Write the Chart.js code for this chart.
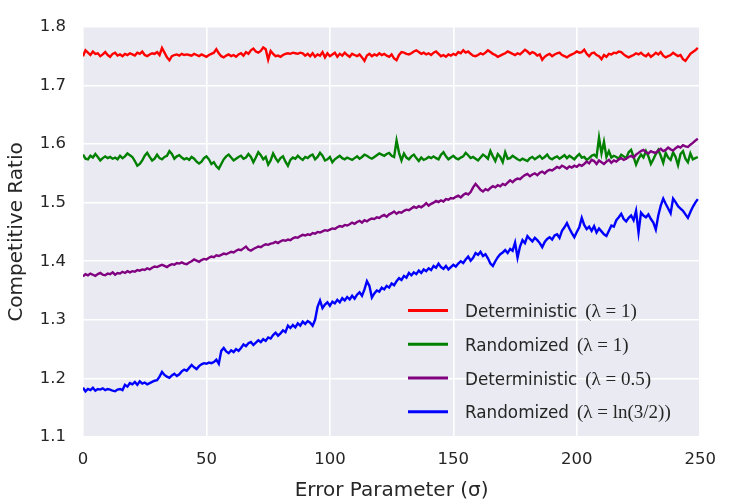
<!DOCTYPE html>
<html>
<head>
<meta charset="utf-8">
<script src="https://cdn.jsdelivr.net/npm/chart.js@4/dist/chart.umd.min.js"></script>
<style>
html,body{margin:0;padding:0;background:#fff;}
canvas{display:block;}
</style>
</head>
<body>
<canvas id="c" width="729" height="501"></canvas>
<script>
// x values: Error Parameter sigma = 0..249
const sigma = Array.from({length: 250}, (_, i) => i);

const seriesNames = ['Deterministic', 'Randomized', 'Deterministic', 'Randomized'];
const seriesParams = ['(λ = 1)', '(λ = 1)', '(λ = 0.5)', '(λ = ln(3/2))'];
const seriesColors = ['#FF0000', '#008000', '#800080', '#0000FF'];

const xTicks = [0, 50, 100, 150, 200, 250];
const yTicks = [1.1, 1.2, 1.3, 1.4, 1.5, 1.6, 1.7, 1.8];

const detLambda1 = [
1.750,1.760,1.756,1.752,1.758,1.754,1.755,1.750,1.753,1.757,
1.752,1.749,1.754,1.756,1.751,1.753,1.750,1.754,1.752,1.755,
1.753,1.751,1.756,1.754,1.758,1.752,1.750,1.753,1.755,1.754,
1.757,1.752,1.764,1.756,1.748,1.743,1.750,1.752,1.753,1.751,
1.754,1.752,1.753,1.752,1.751,1.754,1.752,1.750,1.753,1.751,
1.749,1.752,1.754,1.756,1.762,1.755,1.750,1.748,1.751,1.753,
1.750,1.752,1.749,1.753,1.755,1.751,1.757,1.754,1.760,1.763,
1.758,1.756,1.759,1.765,1.762,1.744,1.759,1.754,1.750,1.751,
1.749,1.752,1.754,1.755,1.754,1.756,1.755,1.754,1.756,1.755,
1.751,1.754,1.750,1.755,1.749,1.753,1.751,1.757,1.748,1.755,
1.750,1.753,1.756,1.749,1.754,1.751,1.756,1.752,1.749,1.754,
1.752,1.750,1.753,1.748,1.742,1.751,1.754,1.750,1.753,1.751,
1.755,1.752,1.754,1.751,1.749,1.753,1.746,1.743,1.752,1.757,
1.756,1.754,1.753,1.755,1.758,1.760,1.757,1.754,1.756,1.753,
1.755,1.752,1.756,1.758,1.754,1.750,1.752,1.749,1.753,1.751,
1.754,1.752,1.757,1.755,1.760,1.756,1.758,1.754,1.751,1.750,
1.752,1.755,1.753,1.756,1.760,1.757,1.754,1.752,1.749,1.751,
1.753,1.755,1.758,1.756,1.754,1.752,1.755,1.753,1.757,1.761,
1.758,1.754,1.757,1.755,1.751,1.753,1.744,1.749,1.752,1.754,
1.750,1.753,1.755,1.756,1.752,1.750,1.748,1.751,1.753,1.755,
1.758,1.756,1.757,1.761,1.754,1.750,1.755,1.756,1.752,1.750,
1.745,1.752,1.749,1.754,1.753,1.756,1.755,1.758,1.757,1.753,
1.750,1.748,1.750,1.752,1.755,1.753,1.756,1.752,1.750,1.754,
1.749,1.752,1.756,1.753,1.757,1.751,1.748,1.750,1.752,1.756,
1.753,1.750,1.752,1.745,1.742,1.748,1.754,1.757,1.760,1.764
];

const randLambda1 = [
1.582,1.575,1.574,1.580,1.577,1.583,1.578,1.572,1.576,1.579,
1.576,1.578,1.575,1.577,1.574,1.580,1.576,1.579,1.584,1.581,
1.578,1.571,1.563,1.566,1.572,1.580,1.585,1.578,1.572,1.575,
1.582,1.576,1.574,1.578,1.580,1.588,1.583,1.575,1.579,1.581,
1.577,1.574,1.576,1.573,1.578,1.575,1.570,1.567,1.570,1.576,
1.579,1.574,1.566,1.569,1.562,1.558,1.566,1.574,1.579,1.582,
1.577,1.572,1.575,1.578,1.580,1.575,1.577,1.583,1.578,1.569,
1.577,1.586,1.581,1.574,1.578,1.565,1.572,1.584,1.576,1.570,
1.576,1.579,1.570,1.563,1.573,1.577,1.575,1.580,1.576,1.573,
1.578,1.576,1.580,1.582,1.574,1.578,1.585,1.580,1.572,1.574,
1.578,1.569,1.574,1.577,1.580,1.576,1.574,1.577,1.575,1.573,
1.576,1.579,1.575,1.578,1.582,1.580,1.577,1.575,1.578,1.581,
1.584,1.582,1.580,1.583,1.585,1.580,1.578,1.606,1.585,1.572,
1.584,1.577,1.574,1.579,1.582,1.576,1.571,1.577,1.573,1.575,
1.578,1.576,1.579,1.576,1.574,1.582,1.586,1.579,1.574,1.577,
1.580,1.576,1.574,1.577,1.579,1.585,1.581,1.576,1.578,1.575,
1.572,1.577,1.582,1.579,1.575,1.588,1.579,1.571,1.583,1.578,
1.569,1.586,1.575,1.576,1.580,1.577,1.574,1.572,1.575,1.573,
1.571,1.576,1.578,1.574,1.577,1.580,1.575,1.578,1.582,1.576,
1.574,1.577,1.579,1.575,1.578,1.581,1.576,1.580,1.577,1.574,
1.579,1.583,1.577,1.578,1.573,1.576,1.580,1.582,1.578,1.611,
1.584,1.604,1.578,1.588,1.577,1.580,1.578,1.575,1.582,1.579,
1.576,1.586,1.590,1.578,1.565,1.575,1.582,1.577,1.588,1.579,
1.566,1.574,1.583,1.590,1.580,1.568,1.585,1.577,1.573,1.586,
1.578,1.564,1.583,1.588,1.575,1.569,1.584,1.574,1.576,1.578
];

const detLambdaHalf = [
1.374,1.378,1.376,1.379,1.377,1.375,1.378,1.380,1.377,1.376,
1.379,1.378,1.381,1.377,1.380,1.379,1.382,1.380,1.383,1.381,
1.383,1.382,1.385,1.384,1.386,1.385,1.388,1.386,1.389,1.391,
1.390,1.392,1.394,1.392,1.390,1.393,1.395,1.394,1.397,1.396,
1.398,1.396,1.395,1.398,1.400,1.403,1.401,1.399,1.402,1.404,
1.403,1.406,1.408,1.407,1.410,1.409,1.411,1.413,1.412,1.414,
1.416,1.415,1.418,1.420,1.419,1.422,1.425,1.420,1.418,1.421,
1.423,1.425,1.424,1.427,1.429,1.428,1.430,1.431,1.433,1.431,
1.434,1.436,1.435,1.437,1.436,1.439,1.441,1.440,1.443,1.445,
1.444,1.446,1.445,1.448,1.447,1.450,1.449,1.451,1.453,1.452,
1.454,1.456,1.455,1.458,1.460,1.459,1.462,1.461,1.463,1.466,
1.464,1.467,1.469,1.466,1.470,1.468,1.471,1.473,1.472,1.475,
1.474,1.477,1.479,1.476,1.480,1.482,1.485,1.481,1.484,1.483,
1.486,1.488,1.487,1.490,1.493,1.491,1.494,1.492,1.495,1.499,
1.495,1.498,1.500,1.503,1.501,1.504,1.502,1.506,1.505,1.508,
1.507,1.510,1.512,1.509,1.513,1.516,1.514,1.518,1.526,1.532,
1.527,1.522,1.519,1.523,1.521,1.525,1.528,1.526,1.530,1.528,
1.532,1.530,1.534,1.538,1.535,1.539,1.541,1.540,1.544,1.547,
1.549,1.545,1.548,1.550,1.547,1.551,1.553,1.550,1.554,1.556,
1.555,1.558,1.561,1.559,1.563,1.561,1.558,1.562,1.560,1.563,
1.561,1.565,1.563,1.566,1.570,1.567,1.573,1.571,1.566,1.572,
1.569,1.566,1.570,1.573,1.568,1.572,1.570,1.574,1.576,1.573,
1.575,1.578,1.580,1.577,1.582,1.585,1.588,1.590,1.586,1.584,
1.588,1.586,1.585,1.589,1.592,1.588,1.590,1.594,1.591,1.589,
1.593,1.596,1.594,1.598,1.596,1.595,1.599,1.602,1.606,1.609
];

const randLambdaLn = [
1.184,1.178,1.182,1.180,1.184,1.179,1.182,1.181,1.183,1.180,
1.182,1.181,1.179,1.178,1.181,1.182,1.180,1.189,1.186,1.192,
1.190,1.194,1.189,1.195,1.191,1.193,1.190,1.192,1.194,1.196,
1.197,1.203,1.211,1.206,1.203,1.201,1.205,1.208,1.204,1.207,
1.212,1.215,1.213,1.218,1.223,1.219,1.216,1.221,1.224,1.226,
1.225,1.227,1.226,1.228,1.232,1.225,1.247,1.252,1.246,1.243,
1.248,1.245,1.250,1.247,1.252,1.258,1.255,1.260,1.262,1.257,
1.261,1.265,1.262,1.267,1.264,1.270,1.268,1.274,1.278,1.273,
1.277,1.282,1.279,1.290,1.286,1.291,1.287,1.294,1.290,1.297,
1.293,1.298,1.295,1.290,1.300,1.322,1.333,1.320,1.326,1.330,
1.324,1.331,1.328,1.334,1.330,1.337,1.333,1.339,1.335,1.341,
1.336,1.343,1.347,1.341,1.352,1.366,1.358,1.338,1.345,1.350,
1.348,1.355,1.352,1.358,1.355,1.362,1.359,1.366,1.371,1.368,
1.375,1.372,1.380,1.376,1.381,1.378,1.384,1.380,1.386,1.383,
1.388,1.385,1.392,1.389,1.396,1.390,1.387,1.392,1.386,1.390,
1.394,1.391,1.396,1.400,1.397,1.403,1.408,1.401,1.406,1.414,
1.411,1.416,1.409,1.412,1.405,1.396,1.392,1.400,1.407,1.412,
1.415,1.419,1.414,1.421,1.418,1.432,1.406,1.425,1.436,1.431,
1.443,1.438,1.434,1.440,1.436,1.431,1.424,1.433,1.438,1.441,
1.437,1.444,1.446,1.440,1.452,1.458,1.465,1.456,1.448,1.441,
1.450,1.458,1.474,1.462,1.455,1.459,1.452,1.460,1.449,1.456,
1.451,1.446,1.443,1.452,1.461,1.459,1.470,1.475,1.481,1.472,
1.468,1.474,1.478,1.470,1.486,1.449,1.483,1.478,1.475,1.480,
1.472,1.466,1.454,1.478,1.495,1.507,1.498,1.490,1.482,1.507,
1.501,1.494,1.490,1.486,1.480,1.474,1.484,1.493,1.500,1.506
];

const seriesValues = [detLambda1, randLambda1, detLambdaHalf, randLambdaLn];

const TEXT = '#262626';
const SANS = "'DejaVu Sans', 'Liberation Sans', sans-serif";
const SERIF = "'Liberation Serif', 'DejaVu Serif', serif";

const bgPlugin = {
  id: 'bg',
  beforeDraw(chart) {
    const {ctx, chartArea: a} = chart;
    ctx.save();
    ctx.fillStyle = '#ffffff';
    ctx.fillRect(0, 0, chart.width, chart.height);
    ctx.fillStyle = '#EAEAF2';
    ctx.fillRect(a.left, a.top, a.right - a.left, a.bottom - a.top);
    ctx.restore();
  }
};

const legendPlugin = {
  id: 'mathLegend',
  afterDraw(chart) {
    const {ctx, chartArea: a} = chart;
    ctx.save();
    for (let i = 0; i < seriesNames.length; i++) {
      const y = a.top + 283.7 + i * 33.7;
      ctx.strokeStyle = seriesColors[i];
      ctx.lineWidth = 3;
      ctx.beginPath();
      ctx.moveTo(a.left + 325, y);
      ctx.lineTo(a.left + 365, y);
      ctx.stroke();
      ctx.fillStyle = TEXT;
      ctx.textBaseline = 'alphabetic';
      ctx.textAlign = 'left';
      ctx.font = '16.8px ' + SANS;
      const tx = a.left + 382;
      ctx.fillText(seriesNames[i], tx, y + 6.5);
      const w = ctx.measureText(seriesNames[i]).width;
      ctx.font = '19px ' + SERIF;
      ctx.fillText(seriesParams[i], tx + w + 8, y + 6.5);
    }
    ctx.restore();
  }
};

const datasets = seriesValues.map((vals, i) => ({
  label: seriesNames[i] + ' ' + seriesParams[i],
  data: vals.map((v, j) => ({x: sigma[j], y: v})),
  borderColor: seriesColors[i],
  backgroundColor: seriesColors[i],
  borderWidth: 2.4,
  pointRadius: 0,
  tension: 0,
  fill: false,
  order: seriesValues.length - i
}));

new Chart(document.getElementById('c'), {
  type: 'line',
  data: {datasets},
  plugins: [bgPlugin, legendPlugin],
  options: {
    responsive: false,
    animation: false,
    devicePixelRatio: 1,
    layout: {padding: {left: 0, right: 20, top: 18, bottom: 0}},
    plugins: {legend: {display: false}, tooltip: {enabled: false}},
    scales: {
      x: {
        type: 'linear',
        min: 0, max: 250,
        afterBuildTicks(scale) { scale.ticks = xTicks.map(v => ({value: v})); },
        afterFit(scale) { scale.height = 64; },
        grid: {color: '#ffffff', lineWidth: 1.6, drawTicks: false},
        border: {display: false},
        ticks: {color: TEXT, font: {family: SANS, size: 16.5}, padding: 13, maxRotation: 0,
                callback: v => String(v)},
        title: {display: true, text: 'Error Parameter (σ)', color: TEXT,
                font: {family: SANS, size: 20, lineHeight: 1}, padding: {top: 0, bottom: 0}}
      },
      y: {
        type: 'linear',
        min: 1.1, max: 1.8,
        afterBuildTicks(scale) { scale.ticks = yTicks.map(v => ({value: v})); },
        afterFit(scale) { scale.width = 83; },
        grid: {color: '#ffffff', lineWidth: 1.6, drawTicks: false},
        border: {display: false},
        ticks: {color: TEXT, font: {family: SANS, size: 16.5}, padding: 17,
                callback: v => Number(v).toFixed(1)},
        title: {display: true, text: 'Competitive Ratio', color: TEXT,
                font: {family: SANS, size: 20, lineHeight: 1}, padding: {top: 7, bottom: 0}}
      }
    }
  }
});
</script>
</body>
</html>
